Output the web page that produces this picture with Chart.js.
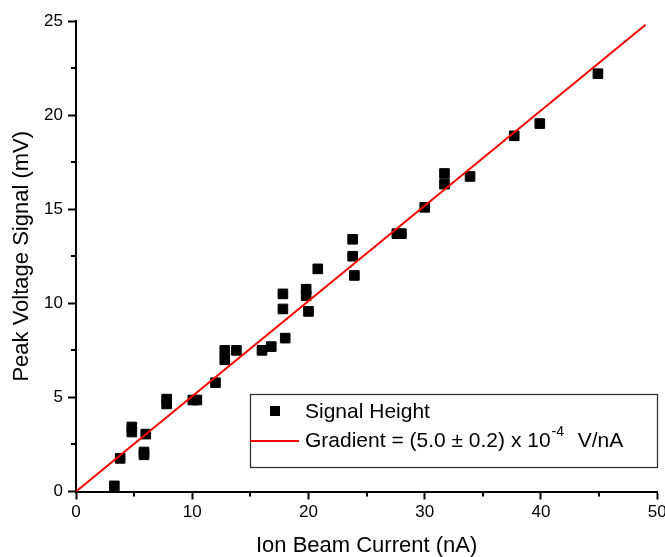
<!DOCTYPE html>
<html>
<head>
<meta charset="utf-8">
<script src="https://cdn.jsdelivr.net/npm/chart.js@4.4.0/dist/chart.umd.min.js"></script>
<style>
	html, body { margin: 0; padding: 0; background: #fff; }
	#wrap { width: 665px; height: 557px; }
</style>
</head>
<body>
<div id="wrap"><canvas id="myChart" width="665" height="557"></canvas></div>
<script>
// measured points (nA, mV)
var currentNA = [3.3, 3.8, 4.8, 4.8, 5.85, 5.85, 6.0, 7.8, 7.8, 10.05, 10.4, 12.0, 12.8, 12.8, 13.8, 16.0, 16.8, 17.8, 17.8, 18.0, 19.8, 19.8, 20.0, 20.8, 23.8, 23.8, 23.95, 27.6, 28.0, 30.0, 31.7, 31.7, 33.9, 37.7, 39.9, 44.9];
var signalMV = [0.3, 1.76, 3.43, 3.16, 2.1, 1.95, 3.05, 4.91, 4.65, 4.86, 4.86, 5.78, 7.5, 7.0, 7.5, 7.5, 7.7, 10.5, 9.7, 8.15, 10.75, 10.4, 9.57, 11.83, 13.4, 12.5, 11.48, 13.7, 13.7, 15.1, 16.9, 16.33, 16.74, 18.9, 19.55, 22.2];

// fitted line end points
var fitX = [0, 49.0];
var fitY = [0, 24.8];

var xTicks = [0, 10, 20, 30, 40, 50];
var yTicks = [0, 5, 10, 15, 20, 25];

var seriesLabels = ["Signal Height", "Gradient = (5.0 \u00b1 0.2) x 10", "-4", "  V/nA"];

var FONT = "'Liberation Sans', Arial, sans-serif";

var points = [];
for (var i = 0; i < currentNA.length; i++) {
	points.push({ x: currentNA[i], y: signalMV[i] });
}
var fit = [];
for (var j = 0; j < fitX.length; j++) {
	fit.push({ x: fitX[j], y: fitY[j] });
}

// short minor ticks between the labelled ones
var minorTicks = {
	id: "minorTicks",
	afterDraw: function(chart) {
		var ctx = chart.ctx;
		var xs = chart.scales.x, ys = chart.scales.y;
		var area = chart.chartArea;
		ctx.save();
		ctx.strokeStyle = "#000";
		ctx.lineWidth = 2;
		for (var v = 5; v < 50; v += 10) {
			var px = Math.round(xs.getPixelForValue(v));
			ctx.beginPath();
			ctx.moveTo(px, area.bottom);
			ctx.lineTo(px, area.bottom + 5);
			ctx.stroke();
		}
		for (var w = 2.5; w < 25; w += 5) {
			var py = Math.round(ys.getPixelForValue(w));
			ctx.beginPath();
			ctx.moveTo(area.left, py);
			ctx.lineTo(area.left - 5, py);
			ctx.stroke();
		}
		ctx.restore();
	}
};

// legend box inside the plot, like the original
var boxLegend = {
	id: "boxLegend",
	afterDraw: function(chart) {
		var ctx = chart.ctx;
		var left = 250, top = 394, right = 657, bottom = 467;
		ctx.save();
		ctx.fillStyle = "#fff";
		ctx.fillRect(left, top, right - left, bottom - top);
		ctx.strokeStyle = "#333";
		ctx.lineWidth = 1.3;
		ctx.strokeRect(left + 0.5, top + 0.5, right - left, bottom - top);

		ctx.fillStyle = "#000";
		ctx.fillRect(270, 406, 10, 10);

		ctx.strokeStyle = "#ff0000";
		ctx.lineWidth = 2;
		ctx.beginPath();
		ctx.moveTo(250, 441);
		ctx.lineTo(299, 441);
		ctx.stroke();

		ctx.fillStyle = "#000";
		ctx.textBaseline = "middle";
		ctx.textAlign = "left";
		ctx.font = "21px " + FONT;
		ctx.fillText(seriesLabels[0], 305, 412);
		ctx.fillText(seriesLabels[1], 305, 441);
		var w1 = ctx.measureText(seriesLabels[1]).width;
		ctx.font = "14px " + FONT;
		ctx.fillText(seriesLabels[2], 305 + w1 + 1, 432);
		var w2 = ctx.measureText(seriesLabels[2]).width;
		ctx.font = "21px " + FONT;
		ctx.fillText(seriesLabels[3], 305 + w1 + w2 + 3, 441);
		ctx.restore();
	}
};

var ctx = document.getElementById("myChart");

var myChart = new Chart(ctx, {
	type: "scatter",
	data: {
		datasets: [
			{
				label: "fit",
				data: fit,
				showLine: true,
				borderColor: "#ff0000",
				borderWidth: 2,
				pointRadius: 0,
				fill: false,
				order: 0
			},
			{
				label: seriesLabels[0],
				data: points,
				pointStyle: "rect",
				pointRadius: 6.8,
				backgroundColor: "#000",
				borderColor: "#000",
				borderWidth: 1,
				order: 1
			}
		]
	},
	plugins: [minorTicks, boxLegend],
	options: {
		responsive: false,
		animation: false,
		layout: { padding: { top: 21, right: 7, left: 0, bottom: 0 } },
		plugins: {
			legend: { display: false },
			tooltip: { enabled: false }
		},
		scales: {
			x: {
				type: "linear",
				min: 0,
				max: 50,
				afterBuildTicks: function(scale) {
					scale.ticks = xTicks.map(function(v) { return { value: v }; });
				},
				afterFit: function(scale) {
					scale.height = 65.5;
					scale.paddingRight = 0;
					scale.paddingLeft = 0;
				},
				grid: { drawOnChartArea: false, drawTicks: true, tickLength: 8, tickWidth: 2, tickColor: "#000" },
				border: { display: true, color: "#000", width: 2 },
				ticks: { color: "#000", padding: 3, maxRotation: 0, font: { family: FONT, size: 17 } },
				title: {
					display: true,
					text: "Ion Beam Current (nA)",
					color: "#000",
					padding: { top: 0, bottom: 0 },
					font: { family: FONT, size: 22, lineHeight: 1 }
				}
			},
			y: {
				type: "linear",
				min: 0,
				max: 25,
				afterBuildTicks: function(scale) {
					scale.ticks = yTicks.map(function(v) { return { value: v }; });
				},
				afterFit: function(scale) {
					scale.width = 76;
					scale.paddingTop = 0;
					scale.paddingBottom = 0;
				},
				grid: { drawOnChartArea: false, drawTicks: true, tickLength: 8, tickWidth: 2, tickColor: "#000" },
				border: { display: true, color: "#000", width: 2 },
				ticks: { color: "#000", padding: 5, font: { family: FONT, size: 17 } },
				title: {
					display: true,
					text: "Peak Voltage Signal (mV)",
					color: "#000",
					padding: { top: 11, bottom: 0 },
					font: { family: FONT, size: 22, lineHeight: 1 }
				}
			}
		}
	}
});
</script>
</body>
</html>
